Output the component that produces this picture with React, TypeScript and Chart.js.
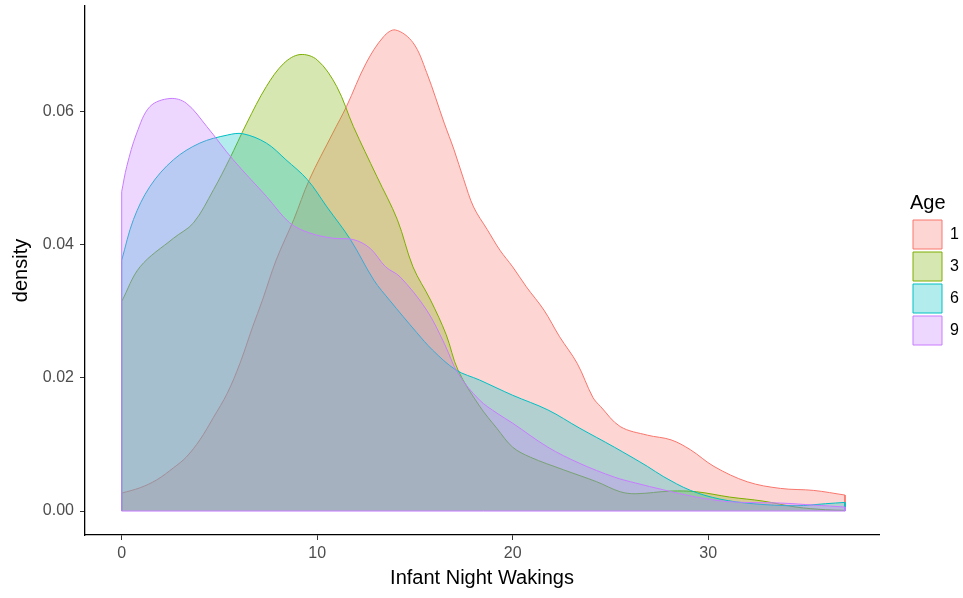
import React, { useEffect, useRef } from 'react';
import { Chart, registerables } from 'chart.js';

Chart.register(...registerables);

const FONT = "'Liberation Sans', Arial, sans-serif";

const AGE_LABELS = ['1', '3', '6', '9'];
const LINE_COLORS = ['#F8766D', '#7CAE00', '#00BFC4', '#C77CFF'];
const FILL_COLORS = [
  'rgba(248,118,109,0.3)',
  'rgba(124,174,0,0.3)',
  'rgba(0,191,196,0.3)',
  'rgba(199,124,255,0.3)',
];

const X_TICKS = [0, 10, 20, 30];
const Y_TICKS = [0, 0.02, 0.04, 0.06];
const X_MIN = -1.877;
const X_MAX = 38.74;
const Y_MIN = -0.0036;
const Y_MAX = 0.0759;

// Age 1
const age1X = [0, 0.94, 1.8, 2.65, 3.3, 4.0, 4.7, 5.4, 6.05, 6.7, 7.2, 7.9, 8.8, 9.6, 10.8, 11.5, 12.5, 13.4, 14.0, 14.9, 15.6, 16.5, 17.0, 17.5, 18.0, 18.7, 19.35, 20.0, 20.7, 21.6, 22.4, 23.3, 24.1, 24.5, 25.5, 26.9, 28.1, 29.1, 30.3, 32.0, 33.7, 35.4, 37];
const age1Y = [0.0027, 0.0035, 0.0047, 0.0065, 0.0081, 0.0107, 0.0141, 0.0177, 0.0222, 0.0277, 0.0317, 0.0377, 0.0438, 0.0498, 0.0568, 0.0608, 0.0673, 0.0713, 0.0723, 0.0704, 0.0659, 0.0583, 0.0543, 0.0498, 0.0457, 0.0423, 0.0392, 0.0367, 0.0337, 0.0302, 0.0262, 0.0222, 0.0171, 0.0157, 0.0127, 0.0114, 0.0107, 0.0092, 0.0067, 0.0044, 0.0034, 0.0031, 0.0024];

// Age 3
const age3X = [0, 0.94, 2.65, 3.67, 4.7, 5.5, 6.4, 7.4, 8.3, 9.12, 10.0, 11.0, 11.85, 13.05, 14.1, 14.9, 15.8, 16.6, 17.2, 18.3, 19.2, 20.0, 20.9, 22.6, 24.3, 25.5, 26.3, 28.1, 29.4, 31.1, 32.8, 34.5, 36, 37];
const age3Y = [0.0315, 0.0367, 0.041, 0.0433, 0.0483, 0.0528, 0.0583, 0.0638, 0.0673, 0.0686, 0.0678, 0.0638, 0.0578, 0.0503, 0.0438, 0.0367, 0.0317, 0.0265, 0.0212, 0.0158, 0.0124, 0.0096, 0.0081, 0.0062, 0.0044, 0.0029, 0.0026, 0.003, 0.0029, 0.0021, 0.0015, 0.0006, 0.0002, 0.0001];

// Age 6
const age6X = [0, 0.6, 1.45, 2.65, 4.0, 5.4, 6.2, 7.4, 8.4, 9.5, 10.5, 11.7, 12.9, 13.7, 15.1, 15.9, 17.1, 18.3, 20.0, 21.8, 23.4, 25.2, 26.9, 27.7, 29.1, 30.6, 32.3, 34.5, 36, 37];
const age6Y = [0.0377, 0.0438, 0.0488, 0.0528, 0.0553, 0.0565, 0.0567, 0.0553, 0.0528, 0.0498, 0.0457, 0.0408, 0.0347, 0.0317, 0.0268, 0.0242, 0.0212, 0.0197, 0.0174, 0.0152, 0.0125, 0.0096, 0.0067, 0.0052, 0.0031, 0.0018, 0.0011, 0.0008, 0.0011, 0.0013];

// Age 9
const age9X = [0, 0.26, 0.77, 1.45, 2.47, 3.3, 4.35, 5.7, 7.4, 8.6, 9.6, 10.8, 11.85, 12.7, 13.5, 14.24, 15.6, 16.5, 17.2, 18.3, 19.2, 20.0, 21.8, 23.4, 25.2, 26.3, 27.7, 29.4, 31.1, 33.7, 35.4, 37];
const age9Y = [0.048, 0.0518, 0.0568, 0.0608, 0.062, 0.0613, 0.0578, 0.0528, 0.0473, 0.0433, 0.0418, 0.041, 0.0408, 0.0395, 0.0367, 0.0352, 0.0302, 0.0252, 0.0207, 0.0167, 0.0147, 0.0132, 0.0096, 0.0072, 0.0051, 0.0042, 0.0032, 0.0021, 0.0014, 0.0012, 0.0009, 0.0006];

const SERIES_X = [age1X, age3X, age6X, age9X];
const SERIES_Y = [age1Y, age3Y, age6Y, age9Y];

function toPoints(xs: number[], ys: number[]) {
  return xs.map((x, i) => ({ x, y: ys[i] }));
}

// straight end edges of each density polygon (x = first / last value, down to 0)
function edgePoints(xs: number[], ys: number[]) {
  const n = xs.length - 1;
  return [
    { x: xs[0], y: 0 },
    { x: xs[0], y: ys[0] },
    { x: xs[0], y: null },
    { x: xs[n], y: ys[n] },
    { x: xs[n], y: 0 },
  ];
}

export default function App() {
  const canvasRef = useRef<HTMLCanvasElement | null>(null);

  useEffect(() => {
    if (!canvasRef.current) return;
    const n = AGE_LABELS.length;
    const datasets: any[] = AGE_LABELS.map((label, i) => ({
      label,
      data: toPoints(SERIES_X[i], SERIES_Y[i]),
      borderColor: LINE_COLORS[i],
      backgroundColor: FILL_COLORS[i],
      borderWidth: 1,
      fill: 'origin',
      pointRadius: 0,
      tension: 0.35,
      order: 2 * (n - i) + 1,
    }));
    AGE_LABELS.forEach((_, i) => {
      datasets.push({
        label: '',
        data: edgePoints(SERIES_X[i], SERIES_Y[i]),
        borderColor: LINE_COLORS[i],
        backgroundColor: 'rgba(0,0,0,0)',
        borderWidth: 1,
        fill: false,
        pointRadius: 0,
        tension: 0,
        spanGaps: false,
        order: 2 * (n - i),
      });
    });
    // shared baseline outline of the density polygons (last group drawn on top)
    datasets.push({
      label: '',
      data: [
        { x: age9X[0], y: 0 },
        { x: age9X[age9X.length - 1], y: 0 },
      ],
      borderColor: LINE_COLORS[3],
      backgroundColor: 'rgba(0,0,0,0)',
      borderWidth: 1,
      fill: false,
      pointRadius: 0,
      tension: 0,
      order: 0,
    });

    const chart = new Chart(canvasRef.current, {
      type: 'line',
      data: { datasets },
      options: {
        responsive: false,
        animation: false,
        devicePixelRatio: 1,
        layout: { padding: { left: 0, right: 0, top: 6, bottom: 0 } },
        elements: { point: { radius: 0, hoverRadius: 0 } },
        plugins: {
          tooltip: { enabled: false },
          legend: {
            position: 'right',
            fullSize: false,
            maxWidth: 53,
            align: 'center',
            title: {
              display: true,
              text: 'Age',
              color: '#000',
              position: 'start',
              padding: 0,
              font: { size: 20, family: FONT },
            },
            labels: {
              boxWidth: 29,
              boxHeight: 29,
              padding: 3,
              color: '#000',
              font: { size: 16, family: FONT },
              filter: (item: any) => item.text !== '',
              sort: (a: any, b: any) => a.datasetIndex - b.datasetIndex,
            },
          },
        },
        scales: {
          x: {
            type: 'linear',
            min: X_MIN,
            max: X_MAX,
            afterBuildTicks: (s: any) => {
              s.ticks = X_TICKS.map((v) => ({ value: v }));
            },
            afterFit: (s: any) => {
              s.height = 63;
              s.paddingLeft = 0;
              s.paddingRight = 0;
            },
            grid: { drawOnChartArea: false, drawTicks: true, tickLength: 5, color: '#333333', lineWidth: 1 },
            border: { display: true, color: '#000', width: 1.3 },
            ticks: {
              color: '#4D4D4D',
              font: { size: 16, family: FONT },
              padding: 4,
              maxRotation: 0,
              autoSkip: false,
              callback: (v: any) => String(v),
            },
            title: {
              display: true,
              text: 'Infant Night Wakings',
              color: '#000',
              font: { size: 20, family: FONT },
              padding: { top: 0, bottom: 8 },
            },
          },
          y: {
            type: 'linear',
            min: Y_MIN,
            max: Y_MAX,
            afterBuildTicks: (s: any) => {
              s.ticks = Y_TICKS.map((v) => ({ value: v }));
            },
            afterFit: (s: any) => {
              s.width = 85;
              s.paddingTop = 0;
              s.paddingBottom = 0;
            },
            grid: { drawOnChartArea: false, drawTicks: true, tickLength: 5, color: '#333333', lineWidth: 1 },
            border: { display: true, color: '#000', width: 1.3 },
            ticks: {
              color: '#4D4D4D',
              font: { size: 16, family: FONT },
              padding: 6,
              autoSkip: false,
              callback: (v: any) => Number(v).toFixed(2),
            },
            title: {
              display: true,
              text: 'density',
              color: '#000',
              font: { size: 20, family: FONT },
              padding: { top: 9, bottom: 0 },
            },
          },
          gap: {
            type: 'linear',
            position: 'right',
            display: true,
            grid: { display: false },
            border: { display: false },
            ticks: { display: false },
            afterFit: (s: any) => {
              s.width = 31;
            },
          },
        },
      } as any,
    });
    return () => chart.destroy();
  }, []);

  return (
    <div style={{ position: 'absolute', left: 0, top: 0, width: 963, height: 598, background: '#fff' }}>
      <canvas ref={canvasRef} width={963} height={598} style={{ display: 'block' }} />
    </div>
  );
}
